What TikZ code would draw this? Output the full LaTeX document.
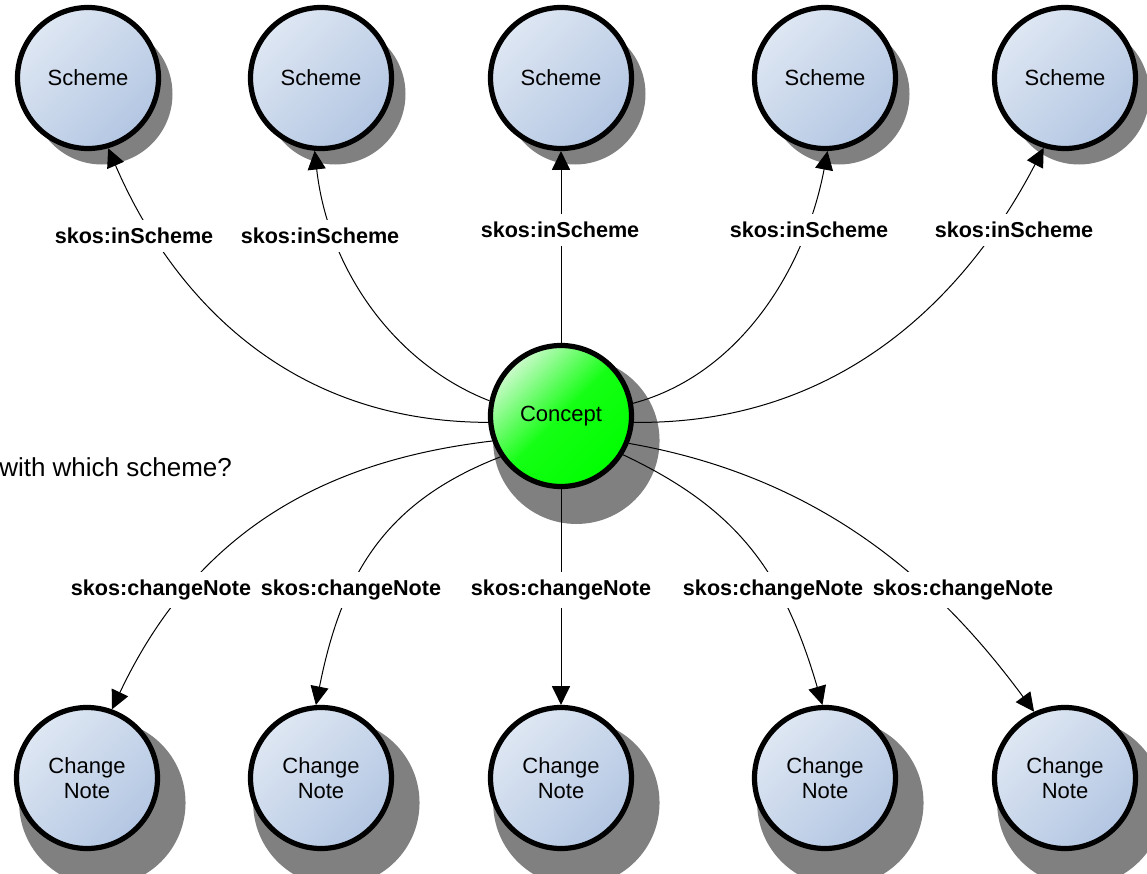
\documentclass[tikz,border=0pt]{standalone}
\usepackage{fontspec}
\setmainfont{Liberation Sans}
\usepackage{tikz}
\usetikzlibrary{arrows.meta, shadows}

\definecolor{schemelight}{RGB}{222,231,243}
\definecolor{schemedark}{RGB}{179,198,226}
\definecolor{conceptlight}{RGB}{205,250,205}

\begin{document}
\begin{tikzpicture}[x=0.75pt, y=-0.75pt,
    schemenode/.style={circle, draw=black, line width=3.9pt, minimum size=105.75pt, inner sep=0pt,
        top color=schemelight, bottom color=schemedark, shading angle=45,
        font=\fontsize{16.5}{18.75}\selectfont, align=center},
    conceptnode/.style={schemenode, top color=conceptlight, bottom color=green,
        middle color=green!92!white, shading angle=45},
    topshadow/.style={drop shadow={shadow xshift=10.5pt, shadow yshift=-12pt, fill=black!50, opacity=1}},
    lowshadow/.style={drop shadow={shadow xshift=9.75pt, shadow yshift=-15.75pt, shadow scale=1.18,
        fill=black!50, opacity=1}},
    edge/.style={line width=0.75pt, -{Triangle[length=14pt, width=13.5pt]}},
    edgelabel/.style={fill=white, font=\fontsize{16.2}{18}\selectfont\bfseries, inner xsep=2pt, inner ysep=6pt}]
        \useasboundingbox (0,0) rectangle (1147,874);

        % Schemes along the top
        \node[schemenode, topshadow] (scheme1) at (88,78) {Scheme};
        \node[schemenode, topshadow] (scheme2) at (321,78) {Scheme};
        \node[schemenode, topshadow] (scheme3) at (561,78) {Scheme};
        \node[schemenode, topshadow] (scheme4) at (825,78) {Scheme};
        \node[schemenode, topshadow] (scheme5) at (1065,78) {Scheme};

        % Concept in the middle
        \node[conceptnode, lowshadow] (concept) at (561,416) {Concept};

        % Change notes along the bottom
        \node[schemenode, lowshadow] (note1) at (87,778) {Change\\Note};
        \node[schemenode, lowshadow] (note2) at (321,778) {Change\\Note};
        \node[schemenode, lowshadow] (note3) at (561,778) {Change\\Note};
        \node[schemenode, lowshadow] (note4) at (825,778) {Change\\Note};
        \node[schemenode, lowshadow] (note5) at (1065,778) {Change\\Note};

        % Question on the left
        \node[anchor=west, inner sep=0pt, font=\fontsize{19.5}{23}\selectfont] (question) at (-1,467) {with which scheme?};

        % inScheme edges
        \draw[edge] (concept.185) .. controls (280,422) and (168,287) .. (scheme1.-74);
        \draw[edge] (concept.168) .. controls (395,364) and (328,270) .. (scheme2.-95);
        \draw[edge] (concept) -- (scheme3);
        \draw[edge] (concept.10) .. controls (739,375) and (805,270) .. (scheme4.-88);
        \draw[edge] (concept.-5) .. controls (855,425) and (976,278) .. (scheme5.-107);

        % changeNote edges
        \draw[edge] (concept.200) .. controls (330,460) and (198,527) .. (note1.70);
        \draw[edge] (concept.214) .. controls (390,500) and (343,568) .. (note2.94);
        \draw[edge] (concept) -- (note3);
        \draw[edge] (concept.-32) .. controls (736,508) and (783,570) .. (note4.92);
        \draw[edge] (concept.-22) .. controls (827,478) and (942,587) .. (note5.115);

        % Edge labels
        \node[edgelabel] (in1) at (134,236) {skos:inScheme};
        \node[edgelabel] (in2) at (320,236) {skos:inScheme};
        \node[edgelabel] (in3) at (560,230) {skos:inScheme};
        \node[edgelabel] (in4) at (809,230) {skos:inScheme};
        \node[edgelabel] (in5) at (1014,230) {skos:inScheme};
        \node[edgelabel] (cn1) at (161,590) {skos:changeNote};
        \node[edgelabel] (cn2) at (351,590) {skos:changeNote};
        \node[edgelabel] (cn3) at (561,590) {skos:changeNote};
        \node[edgelabel] (cn4) at (773,590) {skos:changeNote};
        \node[edgelabel] (cn5) at (963,590) {skos:changeNote};
    \end{tikzpicture}
\end{document}
